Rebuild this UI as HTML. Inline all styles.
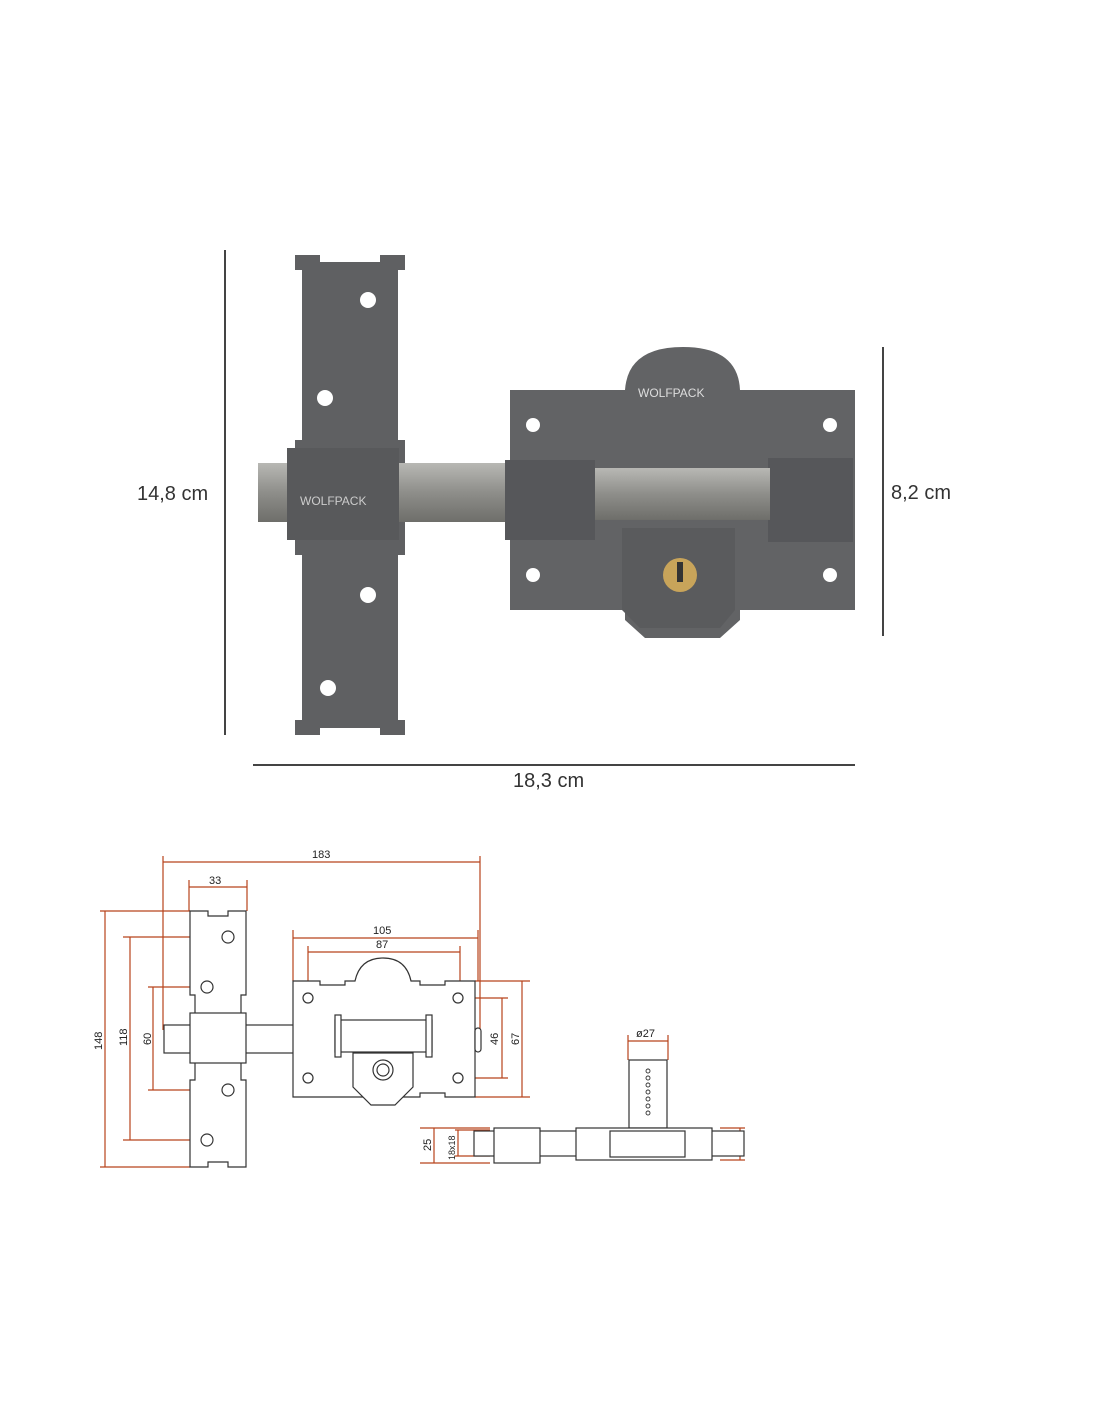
<!DOCTYPE html>
<html><head><meta charset="utf-8"><style>
html,body{margin:0;padding:0;background:#fff}
svg{display:block}
text{font-family:"Liberation Sans",sans-serif}
</style></head><body>
<svg width="1100" height="1422" viewBox="0 0 1100 1422" xmlns="http://www.w3.org/2000/svg">
<defs>
<linearGradient id="steel" x1="0" y1="0" x2="0" y2="1">
<stop offset="0" stop-color="#b8b8b4"/><stop offset="0.5" stop-color="#8e8e8a"/><stop offset="1" stop-color="#6e6e6a"/>
</linearGradient>
</defs>
<!-- photo dimension lines -->
<line x1="225" y1="250" x2="225" y2="735" stroke="#444" stroke-width="2"/>
<line x1="883" y1="347" x2="883" y2="636" stroke="#444" stroke-width="2"/>
<line x1="253" y1="765" x2="855" y2="765" stroke="#444" stroke-width="2"/>
<text x="137" y="500" font-size="20" fill="#333">14,8 cm</text>
<text x="891" y="499" font-size="20" fill="#333">8,2 cm</text>
<text x="513" y="787" font-size="20" fill="#333">18,3 cm</text>

<!-- photo: left plate -->
<path d="M295 255 L320 255 L320 262 L380 262 L380 255 L405 255 L405 270 L398 270 L398 440 L405 440 L405 555 L398 555 L398 720 L405 720 L405 735 L380 735 L380 728 L320 728 L320 735 L295 735 L295 720 L302 720 L302 555 L295 555 L295 440 L302 440 L302 270 L295 270 Z" fill="#5f6062"/>
<circle cx="368" cy="300" r="8" fill="#fff"/><circle cx="325" cy="398" r="8" fill="#fff"/>
<circle cx="368" cy="595" r="8" fill="#fff"/><circle cx="328" cy="688" r="8" fill="#fff"/>
<!-- bolt -->
<rect x="258" y="463" width="517" height="59" fill="url(#steel)"/>
<rect x="595" y="472" width="180" height="42" fill="#7b7b78"/>
<!-- left keeper -->
<rect x="287" y="448" width="112" height="92" fill="#58595b"/>
<text x="300" y="505" font-size="12" fill="#ccc">WOLFPACK</text>
<!-- right body -->
<path d="M510 390 L625 390 Q628 347 683 347 Q738 347 740 390 L855 390 L855 610 L740 610 L740 620 L720 638 L645 638 L625 620 L625 610 L510 610 Z" fill="#626365"/>
<circle cx="533" cy="425" r="7" fill="#fff"/><circle cx="830" cy="425" r="7" fill="#fff"/>
<circle cx="533" cy="575" r="7" fill="#fff"/><circle cx="830" cy="575" r="7" fill="#fff"/>
<text x="638" y="397" font-size="12" fill="#ddd">WOLFPACK</text>
<rect x="505" y="460" width="90" height="80" fill="#56575a"/>
<rect x="768" y="458" width="85" height="84" fill="#56575a"/>
<rect x="595" y="468" width="175" height="52" fill="url(#steel)"/>
<path d="M622 528 L735 528 L735 610 L720 628 L640 628 L622 610 Z" fill="#5a5b5d"/>
<circle cx="680" cy="575" r="17" fill="#c8a45a"/>
<rect x="677" y="562" width="6" height="20" fill="#333"/>

<!-- technical drawing -->
<g stroke="#b8431c" stroke-width="1.2" fill="none">
<line x1="163" y1="856" x2="163" y2="1030"/><line x1="480" y1="856" x2="480" y2="1030"/>
<line x1="163" y1="862" x2="480" y2="862"/>
<line x1="189" y1="880" x2="189" y2="911"/><line x1="247" y1="880" x2="247" y2="911"/>
<line x1="189" y1="887" x2="247" y2="887"/>
<line x1="100" y1="911" x2="190" y2="911"/><line x1="100" y1="1167" x2="190" y2="1167"/>
<line x1="105" y1="911" x2="105" y2="1167"/>
<line x1="123" y1="937" x2="228" y2="937"/><line x1="123" y1="1140" x2="207" y2="1140"/>
<line x1="130" y1="937" x2="130" y2="1140"/>
<line x1="148" y1="987" x2="207" y2="987"/><line x1="148" y1="1090" x2="228" y2="1090"/>
<line x1="153" y1="987" x2="153" y2="1090"/>
<line x1="293" y1="930" x2="293" y2="981"/><line x1="478" y1="930" x2="478" y2="981"/>
<line x1="293" y1="938" x2="478" y2="938"/>
<line x1="308" y1="946" x2="308" y2="992"/><line x1="460" y1="946" x2="460" y2="992"/>
<line x1="308" y1="952" x2="460" y2="952"/>
<line x1="465" y1="998" x2="508" y2="998"/><line x1="465" y1="1078" x2="508" y2="1078"/>
<line x1="502" y1="998" x2="502" y2="1078"/>
<line x1="475" y1="981" x2="530" y2="981"/><line x1="475" y1="1097" x2="530" y2="1097"/>
<line x1="522" y1="981" x2="522" y2="1097"/>
<line x1="628" y1="1035" x2="628" y2="1060"/><line x1="668" y1="1035" x2="668" y2="1060"/>
<line x1="628" y1="1041" x2="668" y2="1041"/>
<line x1="420" y1="1128" x2="490" y2="1128"/><line x1="420" y1="1163" x2="490" y2="1163"/>
<line x1="434" y1="1128" x2="434" y2="1163"/>
<line x1="455" y1="1130" x2="490" y2="1130"/><line x1="455" y1="1156" x2="490" y2="1156"/>
<line x1="458" y1="1130" x2="458" y2="1156"/>
<line x1="720" y1="1128" x2="745" y2="1128"/><line x1="720" y1="1160" x2="745" y2="1160"/>
<line x1="740" y1="1128" x2="740" y2="1160"/>
</g>
<g font-size="11" fill="#222">
<text x="312" y="858">183</text><text x="209" y="884">33</text>
<text x="373" y="934">105</text><text x="376" y="948">87</text>
<text x="636" y="1037">ø27</text>
<text transform="translate(102,1050) rotate(-90)">148</text>
<text transform="translate(127,1046) rotate(-90)">118</text>
<text transform="translate(151,1045) rotate(-90)">60</text>
<text transform="translate(498,1045) rotate(-90)">46</text>
<text transform="translate(519,1045) rotate(-90)">67</text>
<text transform="translate(431,1151) rotate(-90)">25</text>
<text transform="translate(455,1160) rotate(-90)" font-size="9">18x18</text>
<text transform="translate(738,1150) rotate(-90)">23</text>
</g>
<g stroke="#333" stroke-width="1.2" fill="#fff">
<rect x="164" y="1025" width="130" height="28"/>
<path d="M190 911 L208 911 L208 916 L228 916 L228 911 L246 911 L246 995 L241 995 L241 1080 L246 1080 L246 1167 L228 1167 L228 1162 L208 1162 L208 1167 L190 1167 L190 1080 L195 1080 L195 995 L190 995 Z"/>
<rect x="190" y="1013" width="56" height="50"/>
<circle cx="228" cy="937" r="6"/><circle cx="207" cy="987" r="6"/>
<circle cx="228" cy="1090" r="6"/><circle cx="207" cy="1140" r="6"/>
<path d="M293 981 L320 981 L320 985 L345 985 L345 981 L355 981 Q360 958 383 958 Q406 958 411 981 L420 981 L420 985 L445 985 L445 981 L475 981 L475 1097 L445 1097 L445 1093 L420 1093 L420 1097 L293 1097 L293 1093 L293 981 Z"/>
<path d="M353 1053 L413 1053 L413 1087 L395 1105 L371 1105 L353 1087 Z"/>
<circle cx="383" cy="1070" r="10"/><circle cx="383" cy="1070" r="6"/>
<rect x="335" y="1020" width="97" height="32"/>
<rect x="335" y="1015" width="6" height="42"/><rect x="426" y="1015" width="6" height="42"/>
<circle cx="308" cy="998" r="5"/><circle cx="458" cy="998" r="5"/>
<circle cx="308" cy="1078" r="5"/><circle cx="458" cy="1078" r="5"/>
<rect x="475" y="1028" width="6" height="24" rx="3"/>
<!-- side view -->
<rect x="629" y="1060" width="38" height="68"/>
<rect x="474" y="1131" width="270" height="25"/>
<rect x="494" y="1128" width="46" height="35"/>
<rect x="576" y="1128" width="136" height="32"/>
<rect x="610" y="1131" width="75" height="26"/>
</g>
<g fill="none" stroke="#333" stroke-width="0.9">
<circle cx="648" cy="1071" r="2"/><circle cx="648" cy="1078" r="2"/><circle cx="648" cy="1085" r="2"/><circle cx="648" cy="1092" r="2"/><circle cx="648" cy="1099" r="2"/><circle cx="648" cy="1106" r="2"/><circle cx="648" cy="1113" r="2"/>
</g>
</svg>
</body></html>
